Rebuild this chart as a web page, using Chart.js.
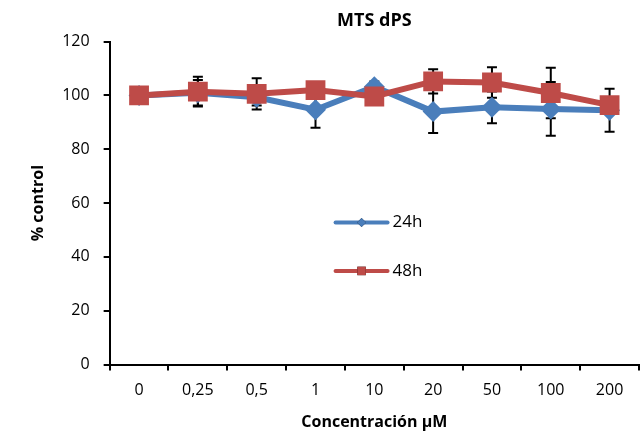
<!DOCTYPE html>
<html>
<head>
<meta charset="utf-8">
<script src="https://cdn.jsdelivr.net/npm/chart.js@4/dist/chart.umd.min.js"></script>
<style>
  html, body { margin: 0; padding: 0; background: #fff; }
  #wrap { width: 641px; height: 435px; }
</style>
</head>
<body>
<div id="wrap"><canvas id="grafico"></canvas></div>
<script>
// datos
const concentraciones = ['0', '0,25', '0,5', '1', '10', '20', '50', '100', '200'];
const valores24h = [100, 101, 99.3, 94.7, 103.2, 94, 95.6, 95, 94.5];
const valores48h = [100, 101.4, 100.6, 102, 99.6, 105.2, 104.8, 100.9, 96.4];
const error24h = [0, 4.7, 3, 6.7, 2, 8, 5.9, 10, 8];
const error48h = [0, 5.5, 5.8, 2, 2, 4.5, 5.7, 9.4, 2];
const ticksY = [0, 20, 40, 60, 80, 100, 120];

const AZUL = '#4a7ebb';
const ROJO = '#be4b48';
const FUENTE = "'Open Sans', sans-serif";

// barras de error (se dibujan antes de las series)
const barrasError = {
  id: 'barrasError',
  beforeDatasetsDraw(chart) {
    const ctx = chart.ctx;
    const y = chart.scales.y;
    ctx.save();
    ctx.strokeStyle = '#000';
    ctx.lineWidth = 2;
    chart.data.datasets.forEach((ds, i) => {
      const meta = chart.getDatasetMeta(i);
      meta.data.forEach((pt, j) => {
        const e = ds.errores[j];
        if (!e) return;
        const yTop = y.getPixelForValue(ds.data[j] + e);
        const yBot = y.getPixelForValue(ds.data[j] - e);
        ctx.beginPath();
        ctx.moveTo(pt.x, yTop); ctx.lineTo(pt.x, yBot);
        ctx.moveTo(pt.x - 5, yTop); ctx.lineTo(pt.x + 5, yTop);
        ctx.moveTo(pt.x - 5, yBot); ctx.lineTo(pt.x + 5, yBot);
        ctx.stroke();
      });
    });
    ctx.restore();
  }
};

// leyenda dentro del area del grafico
const leyenda = {
  id: 'leyenda',
  afterDraw(chart) {
    const ctx = chart.ctx;
    const area = chart.chartArea;
    const x0 = area.left + 0.423 * (area.right - area.left);
    const filas = [0.56, 0.71];
    ctx.save();
    chart.data.datasets.forEach((ds, i) => {
      const yy = area.top + filas[i] * (area.bottom - area.top);
      ctx.strokeStyle = ds.borderColor;
      ctx.lineWidth = 4;
      ctx.lineCap = 'round';
      ctx.beginPath();
      ctx.moveTo(x0 + 2, yy); ctx.lineTo(x0 + 54, yy);
      ctx.stroke();
      Chart.helpers.drawPoint(ctx, {
        pointStyle: ds.pointStyle,
        radius: ds.pointStyle === 'rect' ? 6 : 4.5,
        borderWidth: 0
      }, x0 + 28, yy);
      ctx.fillStyle = ds.borderColor;
      ctx.fill();
      ctx.fillStyle = '#000';
      ctx.font = '17px ' + FUENTE;
      ctx.textBaseline = 'middle';
      ctx.fillText(ds.label, x0 + 59, yy);
    });
    ctx.restore();
  }
};

const ctx = document.getElementById('grafico').getContext('2d');
new Chart(ctx, {
  type: 'line',
  data: {
    labels: concentraciones,
    datasets: [
      {
        label: '24h',
        data: valores24h,
        errores: error24h,
        borderColor: AZUL,
        backgroundColor: AZUL,
        borderWidth: 6,
        pointStyle: 'rectRot',
        pointRadius: 10.5,
        pointBorderWidth: 0,
        pointBackgroundColor: AZUL,
        order: 2
      },
      {
        label: '48h',
        data: valores48h,
        errores: error48h,
        borderColor: ROJO,
        backgroundColor: ROJO,
        borderWidth: 6,
        pointStyle: 'rect',
        pointRadius: 14,
        pointBorderWidth: 0,
        pointBackgroundColor: ROJO,
        order: 1
      }
    ]
  },
  options: {
    responsive: true,
    maintainAspectRatio: false,
    animation: false,
    layout: { autoPadding: false, padding: { left: 29, right: 2, top: 6, bottom: 3 } },
    plugins: {
      legend: { display: false },
      tooltip: { enabled: false },
      title: {
        display: true,
        text: 'MTS dPS',
        fullSize: false,
        color: '#000',
        font: { family: FUENTE, size: 18, weight: 'bold' },
        padding: { top: 4, bottom: 10 }
      }
    },
    scales: {
      x: {
        offset: true,
        afterFit(scale) {
          // sin margen lateral extra por las etiquetas
          scale.paddingLeft = 0;
          scale.paddingRight = 0;
        },
        grid: {
          offset: true,
          drawOnChartArea: false,
          color: '#000',
          tickColor: '#000',
          tickLength: 6,
          lineWidth: 2
        },
        border: { color: '#000', width: 2 },
        ticks: {
          color: '#000',
          padding: 10,
          maxRotation: 0,
          font: { family: FUENTE, size: 16 }
        },
        title: {
          display: true,
          text: 'Concentración µM',
          color: '#000',
          font: { family: FUENTE, size: 16, weight: 'bold' },
          padding: { top: 3, bottom: 0 }
        }
      },
      y: {
        min: 0,
        max: 120,
        afterBuildTicks(scale) {
          scale.ticks = ticksY.map(v => ({ value: v }));
        },
        grid: {
          drawOnChartArea: false,
          color: '#000',
          tickColor: '#000',
          tickLength: 6,
          lineWidth: 2
        },
        border: { color: '#000', width: 2 },
        ticks: {
          color: '#000',
          padding: 14,
          font: { family: FUENTE, size: 16 }
        },
        title: {
          display: true,
          text: '% control',
          color: '#000',
          font: { family: FUENTE, size: 16, weight: 'bold' },
          padding: { top: 0, bottom: 0 }
        }
      }
    }
  },
  plugins: [barrasError, leyenda]
});
</script>
</body>
</html>
